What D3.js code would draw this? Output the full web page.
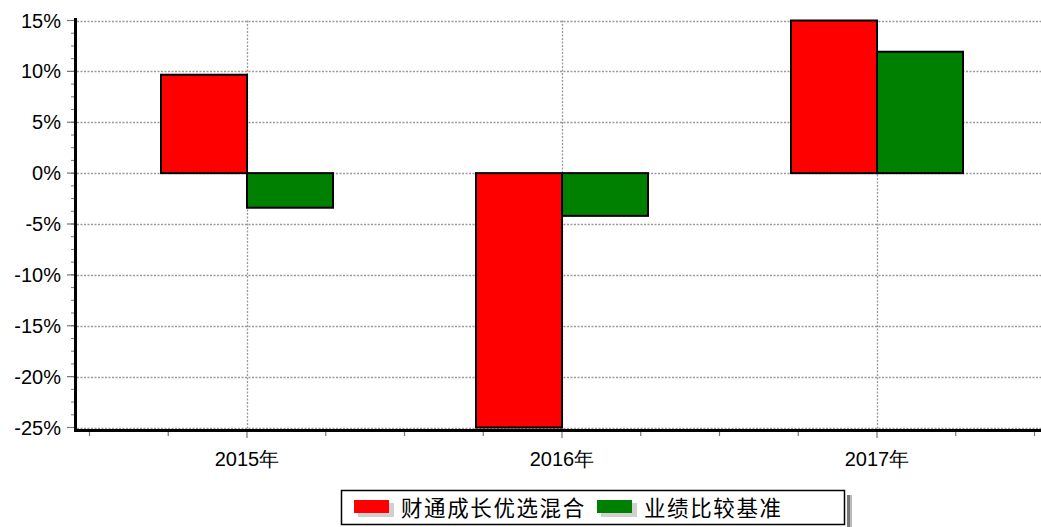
<!DOCTYPE html>
<html><head><meta charset="utf-8">
<script src="https://cdn.jsdelivr.net/npm/d3@7"></script>
<style>
html,body{margin:0;padding:0;background:#fff;}
svg{display:block;}
text{font-family:Arial,"Liberation Sans",sans-serif;fill:#000;}
.cjk{font-family:"Noto Sans CJK SC",sans-serif;}
</style></head>
<body>
<svg id="chart" width="1041" height="527"></svg>
<script>
const categories = ["2015年", "2016年", "2017年"];
const seriesNames = ["财通成长优选混合", "业绩比较基准"];
const fundValues = [9.67, -25.0, 15.0];
const benchValues = [-3.4, -4.2, 11.93];
const yTicks = [15, 10, 5, 0, -5, -10, -15, -20, -25];
const colors = ["#ff0000", "#008000"];

(function () {
const svg = d3.select("#chart");
const plotL = 75, plotR = 1041, plotT = 20.5, plotB = 427.5;

const y = d3.scaleLinear().domain([-25, 15]).range([plotB, plotT]);
const x = d3.scaleBand().domain(categories).range([89.5, 1034.5]).padding(0);
const bw = x.bandwidth();
const barW = 86;
const x1 = d3.scaleBand().domain(seriesNames).range([bw/2 - barW, bw/2 + barW]).padding(0);

const data = categories.map((c, i) => ({cat: c, vals: [fundValues[i], benchValues[i]]}));

// gridlines horizontal
svg.append("g").selectAll("line").data(yTicks).join("line")
  .attr("x1", plotL + 2).attr("x2", plotR)
  .attr("y1", d => Math.round(y(d)) + 0.5).attr("y2", d => Math.round(y(d)) + 0.5)
  .attr("stroke", "#999").attr("stroke-width", 1.3).attr("stroke-dasharray", "2,1.5");
// gridlines vertical
svg.append("g").selectAll("line").data(categories).join("line")
  .attr("x1", d => x(d) + bw/2 + 0.5).attr("x2", d => x(d) + bw/2 + 0.5)
  .attr("y1", plotT).attr("y2", 430)
  .attr("stroke", "#999").attr("stroke-width", 1.3).attr("stroke-dasharray", "2,1.5");

// bars
const g = svg.append("g");
data.forEach(d => {
  d.vals.forEach((v, j) => {
    const x0 = x(d.cat) + x1(seriesNames[j]);
    const ya = y(Math.max(0, v)), yb = y(Math.min(0, v));
    g.append("rect")
      .attr("x", x0).attr("y", ya)
      .attr("width", x1.bandwidth()).attr("height", yb - ya)
      .attr("fill", colors[j]).attr("stroke", "#000").attr("stroke-width", 2);
  });
});

// y minor ticks
const minor = d3.range(-25, 15.001, 1.25);
svg.append("g").selectAll("line").data(minor).join("line")
  .attr("x1", 71).attr("x2", 75)
  .attr("y1", d => y(d)).attr("y2", d => y(d))
  .attr("stroke", "#777").attr("stroke-width", 1);
// y major ticks
svg.append("g").selectAll("line").data(yTicks).join("line")
  .attr("x1", 67).attr("x2", 75)
  .attr("y1", d => y(d)).attr("y2", d => y(d))
  .attr("stroke", "#777").attr("stroke-width", 1.2);
// y labels
svg.append("g").selectAll("text").data(yTicks).join("text")
  .attr("x", 61).attr("y", d => y(d) + 7)
  .attr("text-anchor", "end").attr("font-size", 20)
  .text(d => d + "%");

// x ticks
const xt = d3.range(0, 13).map(k => 89.5 + k * bw / 4);
svg.append("g").selectAll("line").data(xt).join("line")
  .attr("x1", d => d).attr("x2", d => d)
  .attr("y1", 432).attr("y2", (d, i) => i % 4 === 2 ? 438 : 436)
  .attr("stroke", "#777").attr("stroke-width", 1.2);

// axes lines
svg.append("line").attr("x1", 75.5).attr("x2", 75.5).attr("y1", 18).attr("y2", 432)
  .attr("stroke", "#000").attr("stroke-width", 3);
svg.append("line").attr("x1", 74).attr("x2", plotR).attr("y1", 430.5).attr("y2", 430.5)
  .attr("stroke", "#000").attr("stroke-width", 3);

// x labels
svg.append("g").selectAll("text").data(categories).join("text")
  .attr("x", d => x(d) + bw/2).attr("y", 466)
  .attr("text-anchor", "middle").attr("font-size", 20)
  .text(d => d);

// legend
const lg = svg.append("g");
lg.append("rect").attr("x", 847).attr("y", 495).attr("width", 3).attr("height", 32).attr("fill", "#777");
lg.append("rect").attr("x", 850).attr("y", 495).attr("width", 2).attr("height", 32).attr("fill", "#bbb");
lg.append("rect").attr("x", 341.5).attr("y", 490.5).attr("width", 503).attr("height", 34)
  .attr("fill", "#fff").attr("stroke", "#000").attr("stroke-width", 1.5);
const legX = [354, 597];
seriesNames.forEach((s, j) => {
  lg.append("rect").attr("x", legX[j] + 4).attr("y", 503).attr("width", 36).attr("height", 14).attr("fill", "#d0d0d0");
  lg.append("rect").attr("x", legX[j]).attr("y", 500).attr("width", 35).attr("height", 13).attr("fill", colors[j]);
  lg.append("text").attr("class", "cjk").attr("x", legX[j] + 47).attr("y", 516)
    .attr("font-size", 21.5).attr("fill", "#222").style("letter-spacing", "1.6px").text(s);
});
})();
</script>
</body></html>
